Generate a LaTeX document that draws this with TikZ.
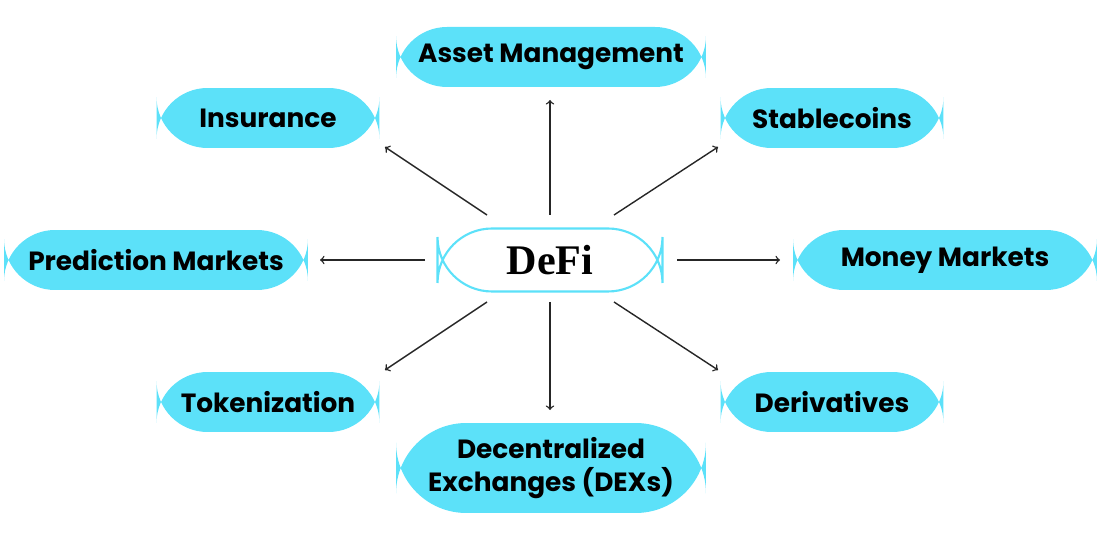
\documentclass[tikz,border=0pt]{standalone}
\usepackage{fontspec}
\setmainfont{Poppins}
\newfontfamily\hubfont{Liberation Serif}
\usetikzlibrary{arrows}
\definecolor{defiblue}{HTML}{5CE1F9}
\tikzstyle{app}=[rounded rectangle=0, draw=none, fill=defiblue, rounded corners=29pt, font=\bfseries\fontsize{15}{19}\selectfont, align=center, inner sep=0pt]
\tikzstyle{hub}=[draw=defiblue, line width=1.2pt, fill=white, rounded corners=31pt, minimum width=4.5cm, minimum height=1.26cm, font=\hubfont\bfseries\fontsize{24}{28}\selectfont]
\tikzstyle{edge}=[-to, line width=0.8pt, black!85]
\begin{document}
\begin{tikzpicture}[x=0.02cm, y=-0.02cm]
	\useasboundingbox (0,0) rectangle (1104,536);
	\tikzstyle{app}=[fill=defiblue, rounded corners=29pt, font=\bfseries\fontsize{15}{19}\selectfont, align=center, inner sep=0pt, minimum height=1.2cm]
	\draw (550,260) node[hub] (defi) {DeFi};
	%
	\draw (551,57) node[app, minimum width=6.2cm] (asset) {Asset Management};
	\draw (268,118) node[app, minimum width=4.46cm] (ins) {Insurance};
	\draw (832,118) node[app, minimum width=4.46cm] (stable) {Stablecoins};
	\draw (156,260) node[app, minimum width=6.08cm] (pred) {Prediction Markets};
	\draw (945,260) node[app, minimum width=6.08cm] (money) {Money Markets};
	\draw (268,402) node[app, minimum width=4.46cm] (token) {Tokenization};
	\draw (832,402) node[app, minimum width=4.46cm] (deriv) {Derivatives};
	\draw (551,468) node[app, minimum width=6.2cm, minimum height=1.8cm, rounded corners=40pt] (dex) {Decentralized\\Exchanges (DEXs)};
	%
	\coordinate (a0) at (550,215); \coordinate (a1) at (550,100);
	\coordinate (i0) at (487,215); \coordinate (i1) at (385,147);
	\coordinate (s0) at (614,215); \coordinate (s1) at (718,147);
	\coordinate (p0) at (425,260); \coordinate (p1) at (320,260);
	\coordinate (m0) at (677,260); \coordinate (m1) at (780,260);
	\coordinate (t0) at (487,302); \coordinate (t1) at (385,370);
	\coordinate (d0) at (614,302); \coordinate (d1) at (718,370);
	\coordinate (x0) at (550,302); \coordinate (x1) at (550,410);
	\foreach \n in {a,i,s,p,m,t,d,x}
		\draw[edge] (\n0) -- (\n1);
\end{tikzpicture}
\end{document}
